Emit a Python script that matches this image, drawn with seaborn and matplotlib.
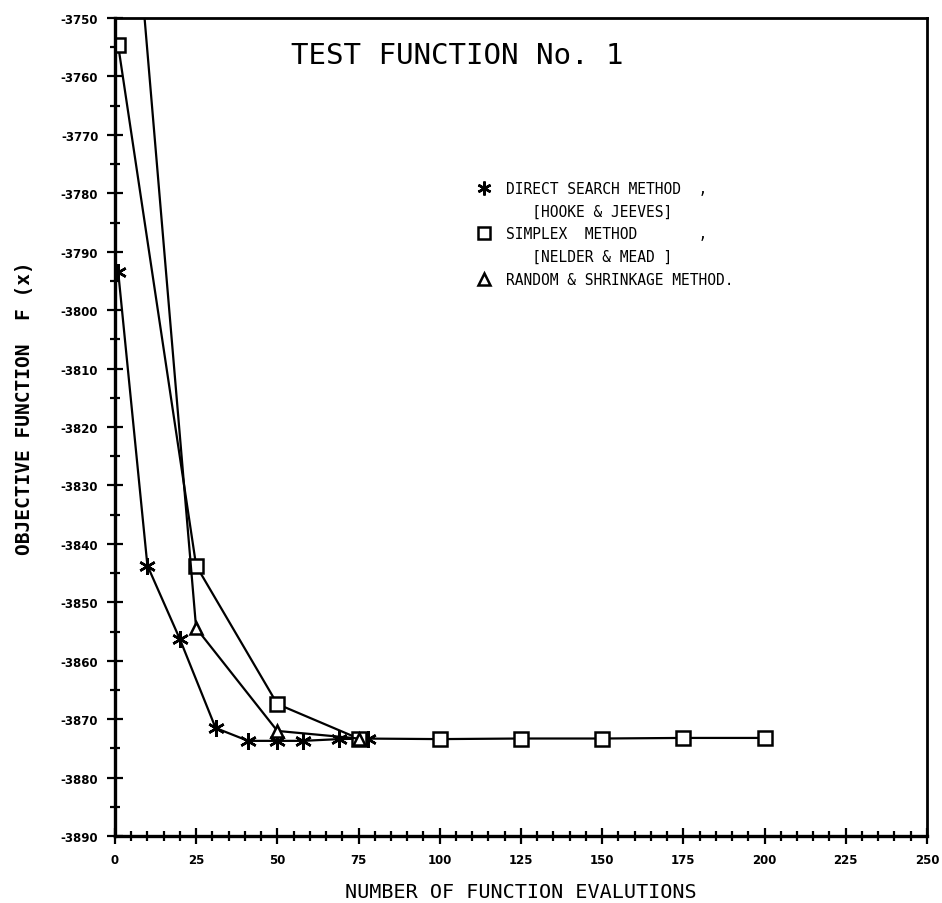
import numpy as np
import pandas as pd
import matplotlib
matplotlib.use("Agg")
import matplotlib.pyplot as plt
from matplotlib.lines import Line2D
from matplotlib.ticker import MultipleLocator
import seaborn as sns

# Datos
x_directo = [1, 10, 20, 31, 41, 50, 58, 69, 78]
y_directo = [-3793.4, -3843.7, -3856.3, -3871.5, -3873.7, -3873.7, -3873.7, -3873.4, -3873.3]

x_simplex = [1, 25, 50, 75, 100, 125, 150, 175, 200]
y_simplex = [-3754.7, -3843.7, -3867.4, -3873.3, -3873.4, -3873.3, -3873.3, -3873.2, -3873.2]

x_aleatorio = [0, 25, 50, 75]
y_aleatorio = [-3690.0, -3854.4, -3872.0, -3873.3]

etiquetas_leyenda = [
    "DIRECT SEARCH METHOD  ,",
    "   [HOOKE & JEEVES]",
    "SIMPLEX  METHOD       ,",
    "   [NELDER & MEAD ]",
    "RANDOM & SHRINKAGE METHOD.",
]

sns.set_style("ticks", {"axes.edgecolor": "black", "xtick.color": "black",
                        "ytick.color": "black", "text.color": "black",
                        "axes.labelcolor": "black"})
plt.rcParams["font.family"] = ["DejaVu Sans Mono", "DejaVu Sans"]
plt.rcParams["axes.unicode_minus"] = False

fig = plt.figure(figsize=(9.42, 9.04), dpi=100)
ax = fig.add_axes([0.122, 0.074, 0.862, 0.905])

asterisco = (6, 2, 0)
estilo = dict(color="black", linewidth=1.6, markeredgecolor="black",
              markeredgewidth=1.8)

sns.lineplot(x=x_directo, y=y_directo, marker=asterisco, markersize=12,
             sort=False, ax=ax, **estilo)
sns.lineplot(x=x_simplex, y=y_simplex, marker="s", markersize=10,
             markerfacecolor="white", sort=False, ax=ax, **estilo)
sns.lineplot(x=x_aleatorio, y=y_aleatorio, marker="^", markersize=8,
             markerfacecolor="white", sort=False, ax=ax, **estilo)

ax.set_xlim(0, 250)
ax.set_ylim(-3890, -3750)
ax.xaxis.set_major_locator(MultipleLocator(25))
ax.xaxis.set_minor_locator(MultipleLocator(5))
ax.yaxis.set_major_locator(MultipleLocator(10))
ax.yaxis.set_minor_locator(MultipleLocator(5))
ax.tick_params(which="major", direction="inout", length=12, width=1.6,
               labelsize=8.5, pad=6)
ax.tick_params(which="minor", direction="inout", length=7, width=1.6)
for lab in ax.get_xticklabels() + ax.get_yticklabels():
    lab.set_fontfamily("DejaVu Sans")
    lab.set_fontweight("bold")

for lado in ["left", "bottom"]:
    ax.spines[lado].set_linewidth(2.4)
for lado in ["top", "right"]:
    ax.spines[lado].set_linewidth(2.0)
    ax.spines[lado].set_visible(True)

ax.set_xlabel("NUMBER OF FUNCTION EVALUTIONS", fontsize=14.5, labelpad=12)
ax.set_ylabel("OBJECTIVE FUNCTION  F (x)", fontsize=14, fontweight="bold")
ax.yaxis.set_label_coords(-0.100, 0.524)

ax.text(0.422, 0.955, "TEST FUNCTION No. 1", transform=ax.transAxes,
        fontsize=21, ha="center", va="center")

# Leyenda: solo marcadores, con lineas de continuacion sin simbolo
vacio = Line2D([], [], linestyle="none", marker=None)
handles = [
    Line2D([], [], linestyle="none", marker=asterisco, markersize=10,
           color="black", markeredgewidth=1.8),
    vacio,
    Line2D([], [], linestyle="none", marker="s", markersize=9,
           markerfacecolor="white", markeredgecolor="black", markeredgewidth=1.8),
    vacio,
    Line2D([], [], linestyle="none", marker="^", markersize=8,
           markerfacecolor="white", markeredgecolor="black", markeredgewidth=1.8),
]
ax.legend(handles, etiquetas_leyenda, loc="upper left",
          bbox_to_anchor=(0.437, 0.81), frameon=False, fontsize=10.5,
          handlelength=1.0, handletextpad=1.0, labelspacing=0.53,
          borderpad=0.0)

fig.savefig("out.png", dpi=100)
